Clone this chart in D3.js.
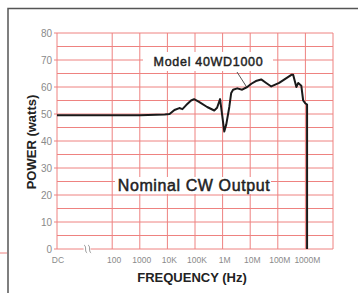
<!DOCTYPE html>
<html>
<head>
<meta charset="utf-8">
<script src="https://cdn.jsdelivr.net/npm/d3@7"></script>
<style>
  body { margin: 0; background: #fff; }
  svg { display: block; font-family: "Liberation Sans", Arial, sans-serif; }
  .ytick { fill: #8a8a8a; font-size: 10px; }
  .xtick { fill: #8a8a8a; font-size: 8.5px; }
  .title { fill: #222; font-weight: bold; }
</style>
</head>
<body>
<svg width="358" height="293"></svg>
<script>
// DC is drawn at 1 Hz on the log axis
var DC = 1;

var freq = [DC, 1e3, 8e3, 12e3, 18e3, 27e3, 35e3, 48e3, 72e3, 93e3, 140e3, 275e3, 500e3, 630e3,
  810e3, 980e3, 1.15e6, 1.35e6, 1.75e6, 2.05e6, 2.4e6, 3.4e6, 5.1e6, 7.8e6, 11e6, 16e6, 25e6,
  38e6, 58e6, 112e6, 310e6, 360e6, 470e6, 550e6, 710e6, 830e6, 980e6, 1150e6, 1150e6];
var power = [49.5, 49.5, 49.8, 50, 51.5, 52.2, 51.8, 53.3, 55, 55.5, 54.5, 52.6, 51.3, 52.3,
  55.5, 49, 43.5, 46, 52.6, 57.8, 59, 59.5, 59, 60, 61.2, 62.2, 62.8,
  61.5, 60.2, 61.5, 64.5, 64.5, 60, 61.5, 60.5, 55, 54, 53.5, 0];

var xTickValues = [DC, 1e2, 1e3, 1e4, 1e5, 1e6, 1e7, 1e8, 1e9];
var xTickLabels = ['DC', '100', '1000', '10K', '100K', '1M', '10M', '100M', '1000M'];
var yTickValues = [0, 10, 20, 30, 40, 50, 60, 70, 80];

var svg = d3.select('svg');
var margin = { left: 57, top: 33, right: 25, bottom: 44 };
var width = 358 - margin.left - margin.right;
var height = 293 - margin.top - margin.bottom;

var gridColor = '#ee8280';

// outer frame
svg.append('path')
  .attr('d', 'M8,293 L8,8.5 L358,8.5')
  .attr('fill', 'none')
  .attr('stroke', '#555')
  .attr('stroke-width', 1.5);

svg.append('line')
  .attr('x1', 0).attr('x2', 7)
  .attr('y1', 253).attr('y2', 253)
  .attr('stroke', gridColor);

var g = svg.append('g')
  .attr('transform', 'translate(' + margin.left + ',' + margin.top + ')');

var x = d3.scaleLog().domain([1, 1e10]).range([0, width]);
var y = d3.scaleLinear().domain([0, 80]).range([height, 0]);

// horizontal grid every 5 watts
g.selectAll('.hgrid')
  .data(d3.range(0, 85, 5))
  .enter().append('line')
  .attr('class', 'hgrid')
  .attr('x1', 0).attr('x2', width)
  .attr('y1', function (d) { return y(d); })
  .attr('y2', function (d) { return y(d); })
  .attr('stroke', gridColor)
  .attr('stroke-width', 1);

// vertical grid at each decade
g.selectAll('.vgrid')
  .data(xTickValues.concat([1e10]))
  .enter().append('line')
  .attr('class', 'vgrid')
  .attr('x1', function (d) { return x(d); })
  .attr('x2', function (d) { return x(d); })
  .attr('y1', 0).attr('y2', height)
  .attr('stroke', gridColor)
  .attr('stroke-width', 1);

// y ticks
g.selectAll('.ytickmark')
  .data(yTickValues)
  .enter().append('line')
  .attr('x1', -3).attr('x2', 0)
  .attr('y1', function (d) { return y(d); })
  .attr('y2', function (d) { return y(d); })
  .attr('stroke', gridColor);

g.selectAll('.ytick')
  .data(yTickValues)
  .enter().append('text')
  .attr('class', 'ytick')
  .attr('x', -5)
  .attr('y', function (d) { return y(d); })
  .attr('dy', '0.35em')
  .attr('text-anchor', 'end')
  .text(function (d) { return d; });

g.selectAll('.xtick')
  .data(xTickValues)
  .enter().append('text')
  .attr('class', 'xtick')
  .attr('x', function (d, i) { return x(d) + (i === 0 ? 1 : 2); })
  .attr('y', height + 14)
  .attr('text-anchor', 'middle')
  .text(function (d, i) { return xTickLabels[i]; });

// axis break mark
var brk = g.append('g').attr('transform', 'translate(' + (x(10) + 1) + ',' + height + ')');
brk.append('rect').attr('x', -2).attr('y', -2).attr('width', 7).attr('height', 4).attr('fill', '#fff');
[0, 4].forEach(function (dx) {
  brk.append('path')
    .attr('d', 'M' + (dx - 1.5) + ',-4 C' + (dx + 1.5) + ',-2 ' + (dx - 1.5) + ',2 ' + (dx + 1.5) + ',4')
    .attr('fill', 'none')
    .attr('stroke', '#999')
    .attr('stroke-width', 1);
});

// labels with white backing
g.append('rect')
  .attr('x', 143 - margin.left).attr('y', 52 - margin.top)
  .attr('width', 130).attr('height', 19)
  .attr('fill', '#fff');

g.append('rect')
  .attr('x', 115 - margin.left).attr('y', 177 - margin.top)
  .attr('width', 156).attr('height', 17)
  .attr('fill', '#fff');

g.append('line')
  .attr('x1', 237 - margin.left).attr('y1', 72 - margin.top)
  .attr('x2', 246 - margin.left).attr('y2', 86 - margin.top)
  .attr('stroke', '#555')
  .attr('stroke-width', 1);

var data = freq.map(function (f, i) { return { f: f, p: power[i] }; });

var line = d3.line()
  .x(function (d) { return x(d.f); })
  .y(function (d) { return y(d.p); })
  .curve(d3.curveLinear);

g.append('path')
  .datum(data)
  .attr('d', line)
  .attr('fill', 'none')
  .attr('stroke', '#1a1a1a')
  .attr('stroke-width', 2)
  .attr('stroke-linejoin', 'round');

g.append('text')
  .attr('x', 208.5 - margin.left)
  .attr('y', 66 - margin.top)
  .attr('text-anchor', 'middle')
  .attr('fill', '#222')
  .attr('stroke', '#222')
  .attr('stroke-width', 0.45)
  .style('font-size', '12.5px')
  .style('letter-spacing', '0.7px')
  .text('Model 40WD1000');

g.append('text')
  .attr('x', 194 - margin.left)
  .attr('y', 191 - margin.top)
  .attr('text-anchor', 'middle')
  .attr('fill', '#222')
  .attr('stroke', '#222')
  .attr('stroke-width', 0.5)
  .style('font-size', '16px')
  .style('letter-spacing', '0.6px')
  .text('Nominal CW Output');

// axis titles
svg.append('text')
  .attr('class', 'title')
  .attr('transform', 'translate(36,142) rotate(-90)')
  .attr('text-anchor', 'middle')
  .style('font-size', '13px')
  .text('POWER (watts)');

svg.append('text')
  .attr('class', 'title')
  .attr('x', 192)
  .attr('y', 282)
  .attr('text-anchor', 'middle')
  .style('font-size', '13px')
  .text('FREQUENCY (Hz)');
</script>
</body>
</html>
